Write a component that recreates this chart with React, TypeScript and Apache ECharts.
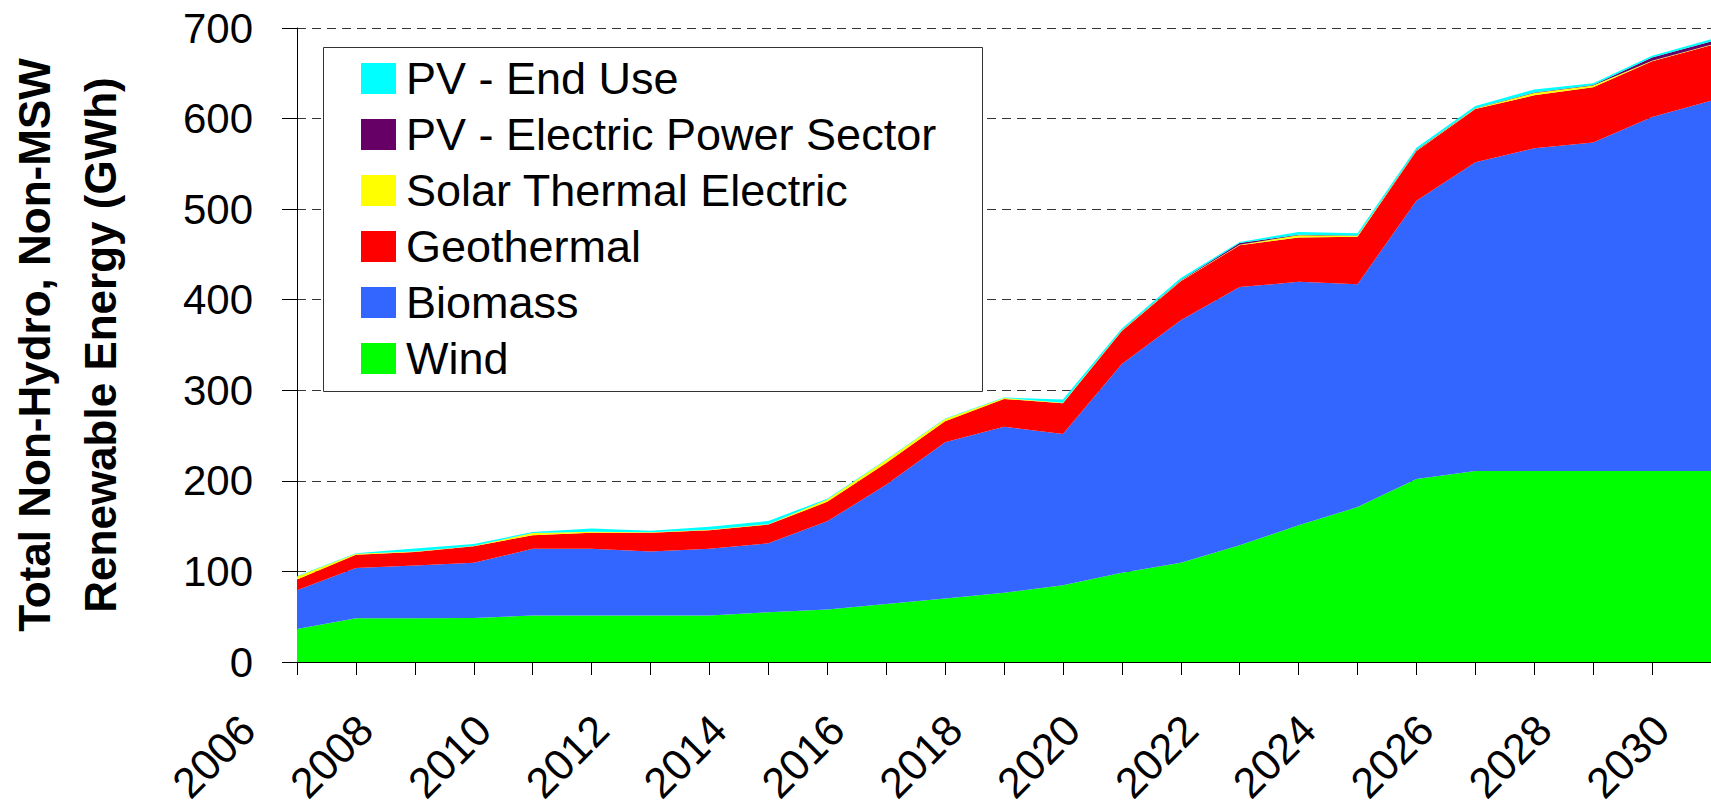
import React, { useEffect, useRef } from 'react';
import * as echarts from 'echarts';

const FONT = '"Liberation Sans", Arial, Helvetica, sans-serif';

const years = [
  '2006', '2007', '2008', '2009', '2010', '2011', '2012', '2013', '2014', '2015',
  '2016', '2017', '2018', '2019', '2020', '2021', '2022', '2023', '2024', '2025',
  '2026', '2027', '2028', '2029', '2030',
];

const wind = [36.5, 48.3, 48.3, 48.7, 51.3, 51.3, 51.3, 51.3, 55.0, 58.0, 64.0, 70.0, 76.4, 84.8, 98.5, 109.6, 129.0, 151.0, 171.0, 202.0, 211.0, 211.0, 211.0, 211.0, 211.0];
const biomass = [42.8, 55.4, 58.3, 60.9, 73.7, 73.7, 70.7, 73.7, 76.0, 97.3, 131.6, 172.5, 183.4, 166.9, 230.4, 267.6, 285.0, 268.7, 246.0, 307.4, 340.8, 356.3, 362.6, 390.7, 408.7];
const geothermal = [11.7, 14.8, 14.8, 18.1, 15.0, 17.8, 20.8, 20.4, 20.7, 21.5, 24.0, 23.3, 30.7, 34.0, 36.5, 43.2, 46.2, 49.1, 52.5, 54.9, 58.7, 58.4, 60.9, 61.6, 61.3];
const solarThermal = [3.5, 1.0, 0.5, 0.5, 2.5, 1.0, 0.5, 0.5, 0.5, 2.5, 3.5, 2.5, 1.0, 0.5, 0.5, 0.5, 0.5, 2.5, 1.0, 0.5, 0.5, 2.5, 2.0, 0.5, 0.5];
const pvElectric = [0, 0, 0, 0, 0, 0, 0, 0, 0, 0, 0, 0, 0, 0, 0.3, 0.5, 2.0, 0.5, 0.5, 0.5, 0.5, 0.5, 0.5, 3.5, 3.5];
const pvEndUse = [0.5, 0.5, 3.5, 2.0, 1.0, 3.5, 1.5, 3.5, 3.5, 1.0, 0.5, 0.5, 0.5, 3.5, 2.0, 2.5, 1.0, 3.0, 2.5, 2.5, 2.5, 3.5, 2.0, 2.0, 2.5];

const seriesNames = ['Wind', 'Biomass', 'Geothermal', 'Solar Thermal Electric', 'PV - Electric Power Sector', 'PV - End Use'];
const seriesColors = ['#00FF00', '#3366FF', '#FF0000', '#FFFF00', '#660066', '#00FFFF'];
const seriesValues = [wind, biomass, geothermal, solarThermal, pvElectric, pvEndUse];

const yTitleLine1 = 'Total Non-Hydro, Non-MSW';
const yTitleLine2 = 'Renewable Energy (GWh)';

export default function App() {
  const ref = useRef<HTMLDivElement>(null);

  useEffect(() => {
    if (!ref.current) return;
    const chart = echarts.init(ref.current, null, { renderer: 'svg' });

    const series = seriesNames.map((name, i) => ({
      name,
      type: 'line',
      stack: 'total',
      data: seriesValues[i],
      color: seriesColors[i],
      symbol: 'none',
      showSymbol: false,
      lineStyle: { width: 0, color: seriesColors[i] },
      itemStyle: { color: seriesColors[i] },
      areaStyle: { color: seriesColors[i], opacity: 1 },
      emphasis: { disabled: true },
      z: 2,
    }));

    chart.setOption({
      animation: false,
      backgroundColor: '#ffffff',
      textStyle: { fontFamily: FONT },
      grid: {
        left: 297,
        right: 0,
        top: 28,
        bottom: 145,
        containLabel: false,
        outerBoundsMode: 'none',
      },
      xAxis: {
        type: 'category',
        data: years,
        boundaryGap: false,
        axisLine: { show: true, lineStyle: { color: '#000', width: 1 } },
        axisTick: { show: true, interval: 0, length: 13, lineStyle: { color: '#000', width: 1 } },
        axisLabel: {
          interval: 1,
          rotate: 45,
          fontSize: 43,
          color: '#000',
          fontFamily: FONT,
          margin: 11,
          padding: [0, 70, 0, 0],
        },
        splitLine: { show: false },
      },
      yAxis: {
        type: 'value',
        min: 0,
        max: 700,
        interval: 100,
        axisLine: { show: true, lineStyle: { color: '#000', width: 1 } },
        axisTick: { show: true, length: 15, lineStyle: { color: '#000', width: 1 } },
        axisLabel: { fontSize: 42, color: '#000', fontFamily: FONT, margin: 44 },
        splitLine: { show: true, lineStyle: { color: '#333', width: 1, type: [9, 6] } },
      },
      legend: {
        orient: 'vertical',
        left: 361,
        top: 56,
        padding: 0,
        itemWidth: 35,
        itemHeight: 31,
        itemGap: 11,
        icon: 'rect',
        selectedMode: false,
        z: 10,
        data: [...seriesNames].reverse(),
        textStyle: { fontSize: 45, color: '#000', fontFamily: FONT, padding: [0, 0, 0, 5] },
      },
      graphic: [
        {
          type: 'rect',
          z: 5,
          shape: { x: 323.5, y: 47.5, width: 659, height: 344 },
          style: { fill: '#ffffff', stroke: '#333333', lineWidth: 1 },
        },
        {
          type: 'text',
          z: 5,
          x: 34,
          y: 345,
          rotation: Math.PI / 2,
          style: {
            text: yTitleLine1,
            fill: '#000',
            font: `bold 44px ${FONT}`,
            fontSize: 44,
            fontWeight: 'bold',
            fontFamily: FONT,
            align: 'center',
            verticalAlign: 'middle',
            textAlign: 'center',
            textVerticalAlign: 'middle',
          },
        },
        {
          type: 'text',
          z: 5,
          x: 100,
          y: 345,
          rotation: Math.PI / 2,
          style: {
            text: yTitleLine2,
            fill: '#000',
            font: `bold 44px ${FONT}`,
            fontSize: 44,
            fontWeight: 'bold',
            fontFamily: FONT,
            align: 'center',
            verticalAlign: 'middle',
            textAlign: 'center',
            textVerticalAlign: 'middle',
          },
        },
      ],
      series,
    });

    return () => chart.dispose();
  }, []);

  return (
    <div
      ref={ref}
      style={{ position: 'absolute', left: 0, top: 0, width: 1711, height: 807, background: '#fff' }}
    />
  );
}
